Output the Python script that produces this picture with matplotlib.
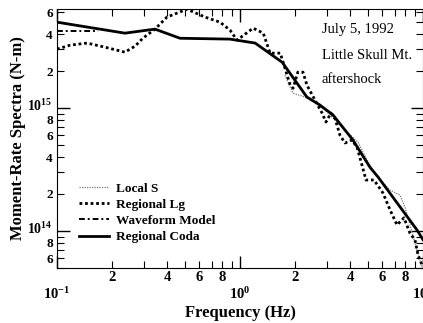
import numpy as np
import matplotlib
matplotlib.use("Agg")
import matplotlib.pyplot as plt
from matplotlib.ticker import LogLocator, FuncFormatter
from matplotlib.transforms import ScaledTranslation

plt.rcParams['font.family'] = ['Liberation Serif', 'DejaVu Serif']
plt.rcParams['font.weight'] = 'bold'
plt.rcParams['mathtext.fontset'] = 'custom'
plt.rcParams['mathtext.rm'] = 'Liberation Serif:bold'

# Regional Coda (solid)
coda_f = [0.100, 0.235, 0.343, 0.470, 0.882, 1.21, 1.70, 2.32, 2.73, 3.22, 4.14, 5.13, 5.68, 9.27, 10.0]
coda_m = [5.0e15, 4.07e15, 4.39e15, 3.7e15, 3.64e15, 3.38e15, 2.36e15, 1.23e15, 1.06e15,
          8.8e14, 5.5e14, 3.3e14, 2.75e14, 1.02e14, 8.5e13]

# Waveform model (only the flat low-frequency part is visible)
wave_f = [0.100, 0.167]
wave_m = [4.23e15, 4.23e15]

# Regional Lg (heavy dotted)
lg_f = [0.100, 0.118, 0.146, 0.183, 0.235, 0.267, 0.295, 0.343, 0.399, 0.513, 0.644, 0.778,
        0.882, 0.963, 1.18, 1.34, 1.46, 1.66, 1.88, 1.95, 2.07, 2.21, 2.32, 2.57, 2.81, 2.95,
        3.14, 3.30, 3.52, 3.75, 4.09, 4.36, 4.64, 4.88, 5.40, 6.04, 6.61, 7.21, 7.87, 8.49,
        9.04, 9.39, 9.88]
lg_m = [3.02e15, 3.25e15, 3.38e15, 3.13e15, 2.85e15, 3.19e15, 3.71e15, 4.39e15, 5.5e15, 6.38e15,
        5.5e15, 5.0e15, 4.31e15, 3.57e15, 4.47e15, 4.07e15, 2.8e15, 2.8e15, 1.54e15, 1.45e15,
        1.96e15, 1.96e15, 1.54e15, 1.16e15, 9.1e14, 7.7e14, 9.1e14, 8.3e14, 6.0e14, 5.2e14,
        5.5e14, 4.8e14, 3.44e14, 2.6e14, 2.6e14, 2.04e14, 1.48e14, 1.12e14, 1.28e14, 9.6e13,
        8.45e13, 6.4e13, 5.3e13]

# Local S (thin light dotted)
ls_f = [1.76, 1.95, 2.27, 2.67, 3.10, 3.75, 4.41, 4.94, 5.61, 6.61, 7.48, 7.97, 8.49, 9.27, 9.88]
ls_m = [1.85e15, 1.32e15, 1.23e15, 1.08e15, 8.8e14, 6.6e14, 5.3e14, 3.78e14, 2.75e14, 2.15e14,
        1.96e14, 1.57e14, 1.12e14, 7.0e13, 5.0e13]

fig = plt.figure(figsize=(4.23, 3.23), dpi=100)
ax = fig.add_axes([57/423, 55/323, 366/423, 259/323])

ax.plot(ls_f, ls_m, color='#777777', lw=0.9, ls=(0, (1, 1)), label='Local S')
ax.plot(lg_f, lg_m, color='black', lw=2.0, ls=(0, (1, 1)), label='Regional Lg')
ax.plot(wave_f, wave_m, color='black', lw=1.4, ls=(0, (3, 1.5, 1, 1.5)), label='Waveform Model')
ax.plot(coda_f, coda_m, color='black', lw=2.0, label='Regional Coda')

ax.set_xscale('log')
ax.set_yscale('log')
ax.set_xlim(0.1, 10)
ax.set_ylim(5.0e13, 6.4e15)

def minor_fmt(v, pos):
    d = int(round(v / 10 ** np.floor(np.log10(v) + 1e-9)))
    return str(d) if d in (2, 4, 6, 8) else ''

def major_fmt(v, pos):
    e = int(round(np.log10(v)))
    return r'$\mathregular{10^{%d}}$' % e

for axis in (ax.xaxis, ax.yaxis):
    axis.set_major_locator(LogLocator(base=10, numticks=10))
    axis.set_minor_locator(LogLocator(base=10, subs=np.arange(2, 10), numticks=20))
    axis.set_major_formatter(FuncFormatter(major_fmt))
    axis.set_minor_formatter(FuncFormatter(minor_fmt))

ax.tick_params(which='both', direction='in', top=True, right=True, labelsize=10.5)
ax.tick_params(which='major', length=9, width=1)
ax.tick_params(which='minor', length=5, width=0.8)
ax.tick_params(axis='x', which='minor', pad=2)
ax.tick_params(axis='x', which='major', pad=13)
ax.tick_params(axis='y', which='both', pad=3)
ax.tick_params(axis='y', which='minor', labelsize=9.5)
ax.tick_params(axis='y', which='major', labelsize=10)

# nudge the y decade labels up a little so they clear the "8" below them
fig.canvas.draw()
for lbl in ax.yaxis.get_majorticklabels():
    lbl.set_transform(lbl.get_transform() + ScaledTranslation(0, 2.5/72, fig.dpi_scale_trans))

ax.set_xlabel('Frequency (Hz)', fontsize=12, fontweight='bold', labelpad=2)
ax.set_ylabel('Moment-Rate Spectra (N-m)', fontsize=12, fontweight='bold', labelpad=1)

ax.text(0.724, 0.919, 'July 5, 1992', transform=ax.transAxes, fontsize=10.5,
        fontweight='normal', va='center')
ax.text(0.724, 0.822, 'Little Skull Mt.', transform=ax.transAxes, fontsize=10.5,
        fontweight='normal', va='center')
ax.text(0.724, 0.726, 'aftershock', transform=ax.transAxes, fontsize=10.5,
        fontweight='normal', va='center')

ax.legend(loc='lower left', bbox_to_anchor=(0.045, 0.075), frameon=False, fontsize=9.5,
          handlelength=2.3, handletextpad=0.5, labelspacing=0.3, borderaxespad=0)

fig.savefig('out.png', dpi=100)
